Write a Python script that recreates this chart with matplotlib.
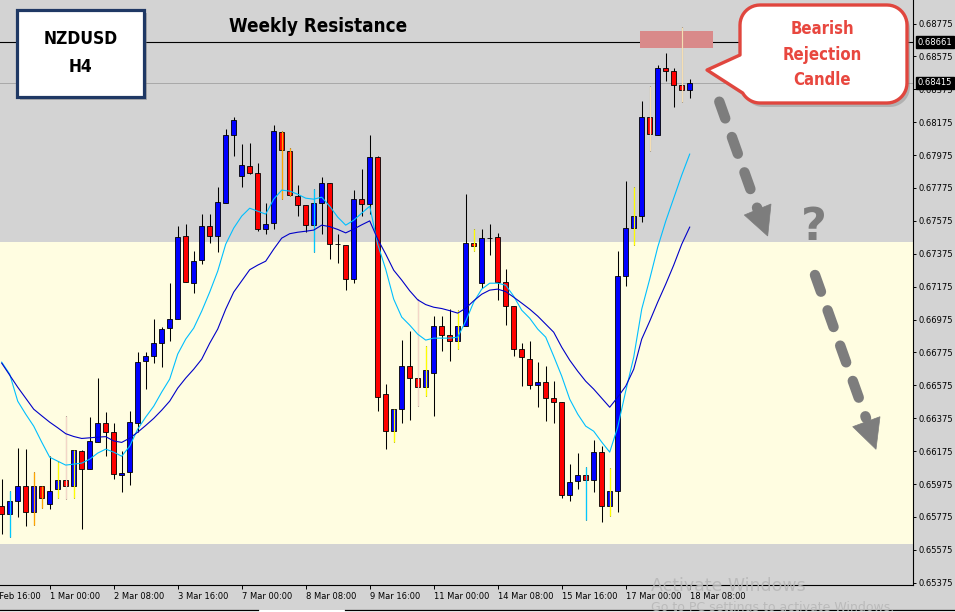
import numpy as np
import matplotlib
matplotlib.use("Agg")
import matplotlib.pyplot as plt
from matplotlib import font_manager as fm
from matplotlib.patches import Rectangle, Polygon
from matplotlib.transforms import blended_transform_factory

# NZDUSD H4 candles, prices in points (1 point = 0.00001)
OPEN = [65842, 65792, 65873, 65960, 65802, 65964, 65853, 65944, 65998, 65964,
        66177, 66065, 66228, 66349, 66289, 66031, 66051, 66349, 66724, 66754,
        66830, 66921, 66977, 67480, 67195, 67338, 67541, 67480, 67681, 68096,
        67845, 67910, 67869, 67525, 67561, 68113, 68001, 67727, 67670, 67549,
        67681, 67808, 67435, 67429, 67221, 67707, 67677, 67961, 66521, 66295,
        66430, 66693, 66617, 66562, 66653, 66933, 66884, 66842, 66933, 67438,
        67195, 67471, 67474, 67204, 67055, 66799, 66738, 66578, 66596, 66501,
        66471, 65907, 65991, 66031, 65998, 66167, 65839, 65930, 67241, 67529,
        67602, 68204, 68098, 68502, 68487, 68402, 68370]
HIGH = [66005, 65934, 66197, 66187, 66047, 65964, 66143, 66106, 66390, 66183,
        66183, 66380, 66617, 66410, 66349, 66173, 66420, 66775, 66775, 66977,
        66931, 67195, 67545, 67559, 67393, 67616, 67616, 67778, 68133, 68204,
        68041, 68048, 67926, 67683, 68157, 68122, 68021, 67792, 67670, 67768,
        67839, 67808, 67494, 67429, 67764, 67889, 68096, 67967, 66582, 66430,
        66852, 66903, 67099, 66815, 66994, 66998, 67042, 67034, 67737, 67525,
        67525, 67555, 67500, 67281, 67055, 66832, 66845, 66714, 66690, 66599,
        66471, 66096, 66163, 66076, 66242, 66207, 66070, 67393, 67818, 67778,
        68305, 68396, 68522, 68595, 68502, 68751, 68437]
LOW = [65670, 65650, 65772, 65721, 65725, 65832, 65826, 65893, 65883, 65887,
       65701, 66065, 66228, 66143, 66005, 65924, 65970, 66289, 66552, 66710,
       66684, 66845, 66977, 67201, 67134, 67312, 67440, 67383, 67681, 67967,
       67778, 67859, 67511, 67494, 67525, 67711, 67727, 67605, 67508, 67387,
       67494, 67342, 67316, 67156, 67196, 67605, 67616, 66420, 66187, 66228,
       66349, 66365, 66450, 66511, 66386, 66785, 66720, 66799, 66933, 67393,
       67164, 67368, 67095, 66943, 66751, 66568, 66552, 66441, 66359, 66349,
       65887, 65869, 65944, 65757, 65927, 65745, 65778, 65806, 67176, 67429,
       67569, 68001, 68098, 68426, 68265, 68295, 68321]
CLOSE = [65792, 65873, 65960, 65802, 65960, 65887, 65934, 65998, 65964, 66183,
         66065, 66234, 66349, 66289, 66035, 66045, 66353, 66718, 66754, 66830,
         66917, 66977, 67474, 67201, 67332, 67541, 67480, 67687, 68096, 68187,
         67914, 67869, 67525, 67555, 68119, 68005, 67731, 67670, 67549, 67681,
         67808, 67433, 67435, 67221, 67707, 67677, 67961, 66505, 66295, 66430,
         66693, 66617, 66562, 66669, 66933, 66884, 66842, 66933, 67438, 67423,
         67468, 67471, 67204, 67055, 66799, 66745, 66576, 66596, 66501, 66471,
         65907, 65988, 66031, 65998, 66167, 65839, 65934, 67241, 67529, 67602,
         68204, 68102, 68502, 68487, 68402, 68370, 68415]

# moving averages (points)
MA_FAST = [66716, 66643, 66479, 66400, 66327, 66230, 66138, 66114, 66090, 66096,
           66102, 66126, 66163, 66187, 66169, 66144, 66205, 66309, 66382, 66448,
           66534, 66613, 66765, 66856, 66923, 67026, 67142, 67269, 67433, 67531,
           67604, 67652, 67634, 67616, 67707, 67762, 67756, 67737, 67713, 67707,
           67719, 67664, 67598, 67549, 67579, 67622, 67664, 67433, 67281, 67099,
           66990, 66941, 66886, 66850, 66862, 66862, 66862, 66868, 66965, 67081,
           67160, 67196, 67196, 67184, 67117, 67032, 66983, 66917, 66868, 66752,
           66631, 66491, 66400, 66327, 66296, 66230, 66169, 66321, 66540, 66746,
           67038, 67221, 67415, 67573, 67713, 67853, 67981]
MA_SLOW = [66710, 66637, 66564, 66497, 66430, 66390, 66351, 66317, 66281, 66264,
           66252, 66256, 66260, 66263, 66237, 66228, 66254, 66290, 66331, 66374,
           66424, 66479, 66558, 66619, 66673, 66734, 66831, 66917, 67038, 67142,
           67210, 67278, 67306, 67330, 67403, 67470, 67497, 67506, 67512, 67519,
           67549, 67540, 67523, 67502, 67525, 67551, 67575, 67464, 67373, 67275,
           67215, 67150, 67095, 67066, 67050, 67042, 67029, 67014, 67044, 67089,
           67129, 67154, 67160, 67145, 67111, 67075, 67038, 66996, 66947, 66898,
           66807, 66728, 66661, 66600, 66552, 66497, 66442, 66503, 66570, 66673,
           66856, 66965, 67081, 67190, 67306, 67433, 67537]

# some candles carry a coloured line from another indicator
WICK_TINT = {1: "#00C8FF", 4: "#FFA500", 5: "#FFA500", 7: "#FFFF00", 8: "#F3D6C8",
             9: "#FFFF00", 35: "#FFA500", 36: "#FFA500", 39: "#00C8FF", 49: "#FFFF00",
             52: "#F3D6C8", 53: "#FFFF00", 57: "#FFFF00", 59: "#FFFF00", 73: "#00C8FF",
             76: "#FFFF00", 79: "#FFFF00", 81: "#F5DEB3", 85: "#F5DEB3"}

Y_TICKS = [0.65375, 0.65575, 0.65775, 0.65975, 0.66175, 0.66375, 0.66575, 0.66775,
           0.66975, 0.67175, 0.67375, 0.67575, 0.67775, 0.67975, 0.68175, 0.68375,
           0.68575, 0.68775]
X_LABEL_POS = [-2, 6, 14, 22, 30, 38, 46, 54, 62, 70, 78, 86]
X_LABELS = ["28 Feb 16:00", "1 Mar 00:00", "2 Mar 08:00", "3 Mar 16:00", "7 Mar 00:00",
            "8 Mar 08:00", "9 Mar 16:00", "11 Mar 00:00", "14 Mar 08:00", "15 Mar 16:00",
            "17 Mar 00:00", "18 Mar 08:00"]

SUPPORT_ZONE = (0.65610, 0.67445)
WEEKLY_RES = 0.68661
BID = 0.68415
REJ_BOX_X = (79.8, 88.9)
REJ_BOX_Y = (0.68625, 0.68727)

GRAY = "#D3D3D3"
CREAM = "#FFFDE1"

names = {f.name for f in fm.fontManager.ttflist}
if "Liberation Sans Narrow" in names:
    HEAD = ["Liberation Sans Narrow", "DejaVu Sans"]; HS = 17; BS = 16; CS = 16
else:
    HEAD = ["DejaVu Sans"]; HS = 13.5; BS = 12.5; CS = 12

o = np.array(OPEN) / 1e5; h = np.array(HIGH) / 1e5
l = np.array(LOW) / 1e5; c = np.array(CLOSE) / 1e5
x = np.arange(len(o))

fig = plt.figure(figsize=(9.55, 6.12), dpi=100, facecolor=GRAY)
ax = fig.add_axes([0, 27 / 612, 913 / 955, 585 / 612], facecolor=GRAY)
ax.set_xlim(-0.2125, 113.91)
ax.set_ylim(0.65361, 0.68918)

ax.axhspan(*SUPPORT_ZONE, color=CREAM, lw=0, zorder=0)
ax.axhline(WEEKLY_RES, color="black", lw=0.8, zorder=1)
ax.axhline(BID, color="#A8A8A8", lw=0.7, zorder=1)
ax.add_patch(Rectangle((REJ_BOX_X[0], REJ_BOX_Y[0]), REJ_BOX_X[1] - REJ_BOX_X[0],
                       REJ_BOX_Y[1] - REJ_BOX_Y[0], fc="#D98A8A", ec="none", zorder=2))

# candles
ax.vlines(x, l, h, color="black", lw=0.75, zorder=3)
col = np.where(c > o, "#0000FF", np.where(c < o, "#FF0000", "black"))
body = np.maximum(np.abs(c - o), 0.00002)
bot = np.where(c == o, o - 0.00001, np.minimum(o, c))
ax.bar(x, body, bottom=bot, width=0.62, color=col, edgecolor="black", lw=0.6, zorder=4)
for i, tc in WICK_TINT.items():
    ax.vlines(i, l[i], h[i], color=tc, lw=0.9, zorder=5)

ax.plot(x, np.array(MA_FAST) / 1e5, color="#00BFFF", lw=0.8, zorder=6)
ax.plot(x, np.array(MA_SLOW) / 1e5, color="#0000C8", lw=0.8, zorder=6)

# axes
for s in ["top", "left"]:
    ax.spines[s].set_visible(False)
for s in ["right", "bottom"]:
    ax.spines[s].set_color("black"); ax.spines[s].set_linewidth(0.8)
ax.yaxis.tick_right()
ax.set_yticks(Y_TICKS)
ax.set_yticklabels([f"{v:.5f}" for v in Y_TICKS])
ax.tick_params(axis="y", direction="out", length=2.5, width=0.7, labelsize=6, pad=1.5)
ax.set_xticks([p for p in X_LABEL_POS if p >= 0])
ax.tick_params(axis="x", direction="out", length=3, width=0.7, labelbottom=False)
tr = blended_transform_factory(ax.transData, ax.transAxes)
for p, lab in zip(X_LABEL_POS, X_LABELS):
    ax.annotate(lab, xy=(p, 0), xycoords=tr, xytext=(0.5, -5), textcoords="offset points",
                ha="left", va="top", fontsize=6, annotation_clip=False)
for v in [WEEKLY_RES, BID]:
    ax.annotate(f"{v:.5f}", xy=(1, v), xycoords=ax.get_yaxis_transform(), xytext=(3.5, 0),
                textcoords="offset points", ha="left", va="center", fontsize=6, color="white",
                annotation_clip=False,
                bbox=dict(boxstyle="square,pad=0.2", fc="black", ec="black"))

# overlay in pixel units for the drawn annotations
ov = fig.add_axes([0, 0, 1, 1], zorder=10)
ov.set_xlim(0, 955); ov.set_ylim(612, 0); ov.axis("off"); ov.patch.set_alpha(0)

ov.add_patch(Rectangle((20, 13), 127, 87, fc="#7a7a7a", ec="none", alpha=0.45))
ov.add_patch(Rectangle((17, 10), 127, 87, fc="white", ec="#1F3864", lw=2.3))
ov.text(80.5, 39.5, "NZDUSD", ha="center", va="center", fontsize=BS, fontweight="bold",
        family=HEAD, fontstretch="condensed")
ov.text(80.5, 67, "H4", ha="center", va="center", fontsize=BS, fontweight="bold",
        family=HEAD, fontstretch="condensed")
ov.text(318, 27, "Weekly Resistance", ha="center", va="center", fontsize=HS,
        fontweight="bold", family=HEAD, fontstretch="condensed")

# speech bubble
def bubble(x0, y0, x1, y1, r, tip, base_top):
    pts = []
    arc = lambda cx, cy, a0, a1: [(cx + r * np.cos(t), cy + r * np.sin(t))
                                  for t in np.radians(np.linspace(a0, a1, 12))]
    pts += arc(x1 - r, y0 + r, -90, 0)
    pts += arc(x1 - r, y1 - r, 0, 90)
    pts += arc(x0 + r, y1 - r, 90, 150)
    pts += [tip, (x0, base_top)]
    pts += arc(x0 + r, y0 + r, 180, 270)
    return pts

pts = bubble(740, 5, 907, 103, 20, (707, 70), 55)
ov.add_patch(Polygon([(px + 3, py + 4) for px, py in pts], closed=True, fc="#808080",
                     ec="none", alpha=0.4))
ov.add_patch(Polygon(pts, closed=True, fc="white", ec="#E0463E", lw=2.4, joinstyle="round"))
for yy, t in [(29, "Bearish"), (54.5, "Rejection"), (80, "Candle")]:
    ov.text(822, yy, t, ha="center", va="center", fontsize=CS, fontweight="bold",
            family=HEAD, fontstretch="condensed", color="#E8473F")

# dashed arrows and question mark
AR = "#7D7D7D"
for (sx, sy), (ex, ey), head in [((719.3, 101.7), (757.5, 209), [(744.3, 215), (771, 204), (767.7, 236)]),
                                 ((815, 275), (866, 418), [(852.7, 426.7), (880, 416.7), (876, 449.3)])]:
    ov.plot([sx, ex], [sy, ey], color=AR, lw=7.5, dashes=(1.7, 1.9), dash_capstyle="round")
    ov.add_patch(Polygon(head, closed=True, fc=AR, ec=AR, lw=0.5))
ov.text(814, 227, "?", ha="center", va="center", fontsize=32, fontweight="bold", color=AR)

# window artefacts at the bottom
ov.add_patch(Rectangle((0, 609.5), 955, 3, fc="white", ec="none"))
ov.plot([0, 258], [609.5, 609.5], color="black", lw=0.9)
ov.plot([345, 955], [609.5, 609.5], color="black", lw=0.9)
ov.text(651, 586, "Activate Windows", ha="left", va="center", fontsize=12.5, color="#B8B8B8", alpha=0.9)
ov.text(651, 607, "Go to PC settings to activate Windows.", ha="left", va="center",
        fontsize=9, color="#B8B8B8", alpha=0.9)

fig.savefig("out.png", dpi=100, facecolor=GRAY)
